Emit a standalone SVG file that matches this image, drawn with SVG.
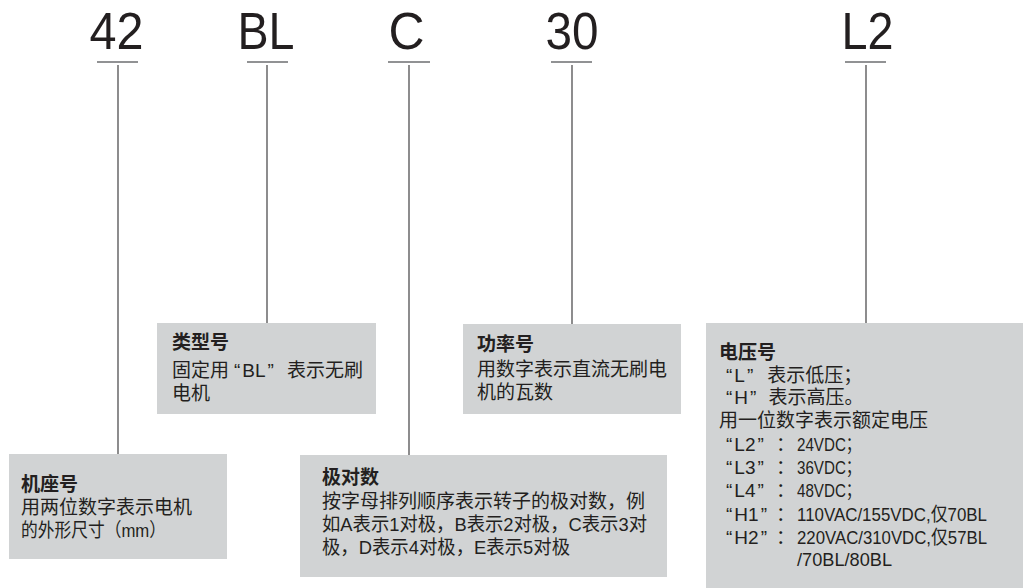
<svg xmlns="http://www.w3.org/2000/svg" width="1023" height="588" viewBox="0 0 1023 588">
<style>
.big{font-family:"Liberation Sans",Arial,sans-serif;font-size:51px;fill:#231f20}
.t{font-family:"Liberation Sans","Noto Sans CJK SC",sans-serif;font-size:19px;fill:#231f20}
.b{font-weight:bold}
.box{fill:#d1d3d4}
.ul{stroke:#6d6e71;stroke-width:1.5}
.ln{stroke:#414042;stroke-width:1.2;fill:none}
</style>
<rect width="1023" height="588" fill="#fff"/>
<g id="codes">
<text class="big" x="89.5" y="49" textLength="54" lengthAdjust="spacingAndGlyphs">42</text>
<text class="big" x="237.5" y="49" textLength="57" lengthAdjust="spacingAndGlyphs">BL</text>
<text class="big" x="388.5" y="49" textLength="36" lengthAdjust="spacingAndGlyphs">C</text>
<text class="big" x="545.5" y="49" textLength="53" lengthAdjust="spacingAndGlyphs">30</text>
<text class="big" x="841.5" y="49" textLength="52" lengthAdjust="spacingAndGlyphs">L2</text>
</g>
<g id="connectors">
<line class="ul" x1="97" y1="62" x2="138" y2="62"/>
<line class="ul" x1="247" y1="62" x2="288" y2="62"/>
<line class="ul" x1="388" y1="62" x2="430" y2="62"/>
<line class="ul" x1="551" y1="62" x2="592" y2="62"/>
<line class="ul" x1="845" y1="62" x2="886" y2="62"/>
<line class="ln" x1="118" y1="65" x2="118" y2="454"/>
<line class="ln" x1="267" y1="65" x2="267" y2="323"/>
<line class="ln" x1="409" y1="65" x2="409" y2="455"/>
<line class="ln" x1="572" y1="65" x2="572" y2="324"/>
<line class="ln" x1="866" y1="65" x2="866" y2="323"/>
</g>
<g id="node-jizuohao">
<rect class="box" x="9" y="454" width="218" height="105"/>
<text class="t b" x="21" y="491">机座号</text>
<text class="t" x="21" y="514">用两位数字表示电机</text>
<text class="t" x="21" y="537" textLength="145" lengthAdjust="spacingAndGlyphs">的外形尺寸（mm）</text>
</g>
<g id="node-leixinghao">
<rect class="box" x="157" y="323" width="219" height="91"/>
<text class="t b" x="172" y="349">类型号</text>
<text class="t" x="172" y="377">固定用<tspan dx="5">“</tspan><tspan dx="2">BL</tspan><tspan dx="2">”</tspan><tspan dx="13">表示无刷</tspan></text>
<text class="t" x="172" y="400">电机</text>
</g>
<g id="node-jiduishu">
<rect class="box" x="300" y="455" width="367" height="122"/>
<text class="t b" x="322" y="484">极对数</text>
<text class="t" x="322" y="508">按字母排列顺序表示转子的极对数，例</text>
<text class="t" x="322" y="531" textLength="325" lengthAdjust="spacingAndGlyphs">如A表示1对极，B表示2对极，C表示3对</text>
<text class="t" x="322" y="554" textLength="248" lengthAdjust="spacingAndGlyphs">极，D表示4对极，E表示5对极</text>
</g>
<g id="node-gonglvhao">
<rect class="box" x="463" y="324" width="218" height="90"/>
<text class="t b" x="477" y="351">功率号</text>
<text class="t" x="477" y="376">用数字表示直流无刷电</text>
<text class="t" x="477" y="399">机的瓦数</text>
</g>
<g id="node-dianyahao">
<rect class="box" x="706" y="323" width="317" height="265"/>
<text class="t b" x="719" y="359">电压号</text>
<text class="t" x="726" y="382">“<tspan dx="2">L</tspan><tspan dx="2">”</tspan><tspan dx="14">表示低压；</tspan></text>
<text class="t" x="726" y="404">“<tspan dx="2">H</tspan><tspan dx="2">”</tspan><tspan dx="12">表示高压。</tspan></text>
<text class="t" x="719" y="427">用一位数字表示额定电压</text>
<text class="t" x="726" y="451">“<tspan dx="2">L2</tspan><tspan dx="2">”</tspan></text>
<text class="t" x="776" y="451">：</text>
<text class="t" x="797" y="451" textLength="64" lengthAdjust="spacingAndGlyphs">24VDC；</text>
<text class="t" x="726" y="474">“<tspan dx="2">L3</tspan><tspan dx="2">”</tspan></text>
<text class="t" x="776" y="474">：</text>
<text class="t" x="797" y="474" textLength="64" lengthAdjust="spacingAndGlyphs">36VDC；</text>
<text class="t" x="726" y="497">“<tspan dx="2">L4</tspan><tspan dx="2">”</tspan></text>
<text class="t" x="776" y="497">：</text>
<text class="t" x="797" y="497" textLength="64" lengthAdjust="spacingAndGlyphs">48VDC；</text>
<text class="t" x="726" y="521">“<tspan dx="2">H1</tspan><tspan dx="2">”</tspan></text>
<text class="t" x="776" y="521">：</text>
<text class="t" x="797" y="521" textLength="190" lengthAdjust="spacingAndGlyphs">110VAC/155VDC,仅70BL</text>
<text class="t" x="726" y="544">“<tspan dx="2">H2</tspan><tspan dx="2">”</tspan></text>
<text class="t" x="776" y="544">：</text>
<text class="t" x="797" y="544" textLength="190" lengthAdjust="spacingAndGlyphs">220VAC/310VDC,仅57BL</text>
<text class="t" x="797" y="566" textLength="95" lengthAdjust="spacingAndGlyphs">/70BL/80BL</text>
</g>
</svg>
